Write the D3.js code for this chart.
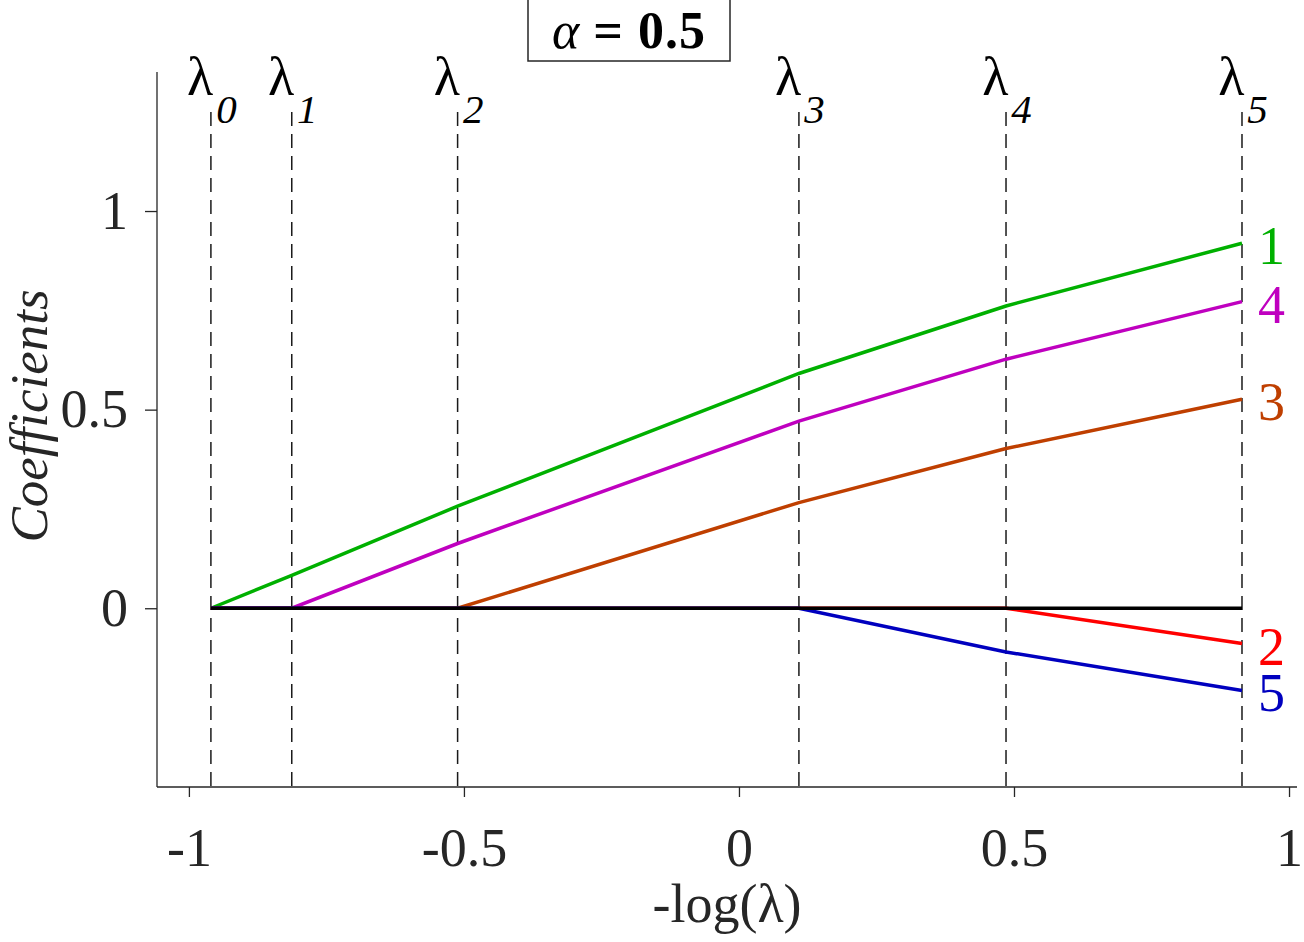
<!DOCTYPE html>
<html>
<head>
<meta charset="utf-8">
<script src="https://cdn.jsdelivr.net/npm/d3@7"></script>
<style>
body { margin:0; background:#fff; }
text { font-family:"Liberation Serif","Times New Roman",serif; }
</style>
</head>
<body>
<svg width="1304" height="942"></svg>
<script>
// knots of the path, in -log(lambda)
var lambdas = [-0.960, -0.813, -0.5115, 0.109, 0.4855, 0.9145];
var lambdaNames = ["0","1","2","3","4","5"];

// coefficient values at each knot
var coef1 = [0, 0.083, 0.257, 0.591, 0.761, 0.919];
var coef2 = [0, 0, 0, 0, 0, -0.089];
var coef3 = [0, 0, 0, 0.266, 0.402, 0.526];
var coef4 = [0, 0, 0.163, 0.471, 0.627, 0.772];
var coef5 = [0, 0, 0, 0, -0.110, -0.207];
var zeroLine = [0, 0, 0, 0, 0, 0];

var seriesNames = ["1","2","3","4","5"];
var seriesColors = ["#00b000","#ff0000","#bf3f00","#bf00bf","#0000bf"];
var seriesValues = [coef1, coef2, coef3, coef4, coef5];

var xTicks = [-1, -0.5, 0, 0.5, 1];
var yTicks = [0, 0.5, 1];
var alphaValue = "0.5";

var svg = d3.select("svg");

var x = d3.scaleLinear().domain([-1.058, 1.0145]).range([157, 1297]);
var y = d3.scaleLinear().domain([-0.45, 1.35]).range([787, 72]);

var line = d3.line()
	.x(function(d, i){ return x(lambdas[i]); })
	.y(function(d){ return y(d); });

// dashed knot lines
svg.selectAll(".knot").data(lambdas)
	.enter().append("line")
	.attr("x1", function(d){ return x(d); })
	.attr("x2", function(d){ return x(d); })
	.attr("y1", 112)
	.attr("y2", 787)
	.attr("stroke", "#1a1a1a")
	.attr("stroke-width", 1.5)
	.attr("stroke-dasharray", "14,8");

// knot labels
var lab = svg.selectAll(".klab").data(lambdas)
	.enter().append("text")
	.attr("x", function(d){ return x(d) + 1; })
	.attr("y", 95)
	.attr("text-anchor", "middle")
	.attr("font-size", 54)
	.attr("fill", "#000");
lab.append("tspan").text("λ");
lab.append("tspan")
	.attr("dx", 3)
	.attr("dy", 28)
	.attr("font-size", 41)
	.attr("font-style", "italic")
	.text(function(d, i){ return lambdaNames[i]; });

// axes
var xAxis = svg.append("g")
	.attr("transform", "translate(0,787)")
	.call(d3.axisBottom(x).tickValues(xTicks).tickSize(10).tickSizeOuter(0).tickPadding(31)
		.tickFormat(function(d){ return String(d); }));
var yAxis = svg.append("g")
	.attr("transform", "translate(157,0)")
	.call(d3.axisLeft(y).tickValues(yTicks).tickSize(12).tickSizeOuter(0).tickPadding(17)
		.tickFormat(function(d){ return String(d); }));

[xAxis, yAxis].forEach(function(a){
	a.select(".domain").attr("stroke", "#262626").attr("stroke-width", 1.3);
	a.selectAll(".tick line").attr("stroke", "#262626").attr("stroke-width", 1.3);
	a.selectAll(".tick text")
		.attr("font-family", "'Liberation Serif','Times New Roman',serif")
		.attr("font-size", 54)
		.attr("fill", "#262626");
});
yAxis.select(".domain").attr("d", "M0,72V787");
xAxis.select(".domain").attr("d", "M157,0H1297");

// coefficient paths
svg.selectAll(".coef").data(seriesValues)
	.enter().append("path")
	.attr("fill", "none")
	.attr("stroke", function(d, i){ return seriesColors[i]; })
	.attr("stroke-width", 3.5)
	.attr("d", line);

svg.append("path")
	.datum(zeroLine)
	.attr("fill", "none")
	.attr("stroke", "#000")
	.attr("stroke-width", 3.5)
	.attr("d", line);

// end labels
svg.selectAll(".elab").data(seriesValues)
	.enter().append("text")
	.attr("x", x(lambdas[lambdas.length - 1]) + 16)
	.attr("y", function(d){ return y(d[d.length - 1]) + 3; })
	.attr("dominant-baseline", "central")
	.attr("font-size", 54)
	.attr("fill", function(d, i){ return seriesColors[i]; })
	.text(function(d, i){ return seriesNames[i]; });

// axis titles
svg.append("text")
	.attr("x", 727)
	.attr("y", 922)
	.attr("text-anchor", "middle")
	.attr("font-size", 54)
	.attr("fill", "#262626")
	.text("-log(λ)");

svg.append("text")
	.attr("transform", "translate(47,416) rotate(-90)")
	.attr("text-anchor", "middle")
	.attr("font-size", 53)
	.attr("font-style", "italic")
	.attr("fill", "#262626")
	.text("Coefficients");

// alpha box
svg.append("rect")
	.attr("x", 528)
	.attr("y", -2)
	.attr("width", 202)
	.attr("height", 63)
	.attr("fill", "#fff")
	.attr("stroke", "#262626")
	.attr("stroke-width", 1.5);
var at = svg.append("text")
	.attr("x", 629)
	.attr("y", 48)
	.attr("text-anchor", "middle")
	.attr("font-size", 52)
	.attr("fill", "#000");
at.append("tspan").attr("font-style", "italic").text("α");
at.append("tspan").attr("font-weight", "bold").attr("letter-spacing", 1).text(" = " + alphaValue);
</script>
</body>
</html>
